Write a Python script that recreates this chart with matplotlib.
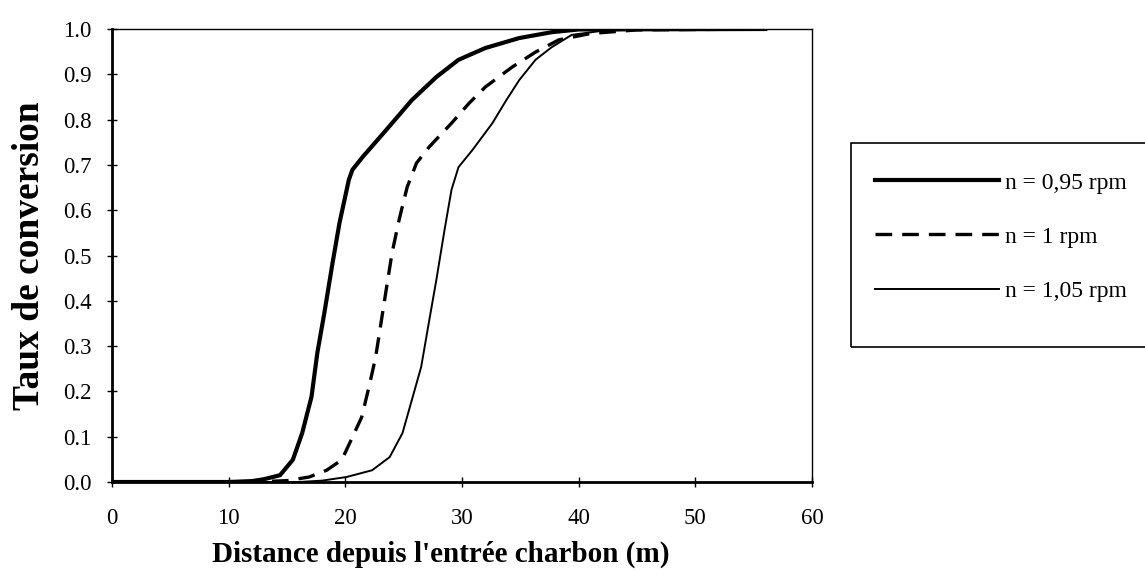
import matplotlib.pyplot as plt
from matplotlib.patches import Rectangle

# n = 0,95 rpm
x_095 = [0, 10, 12, 13, 14.4, 15.5, 16.3, 17.1, 17.6, 18.2, 18.9, 19.5, 20.3, 20.6,
         21.5, 23.5, 25.7, 27.8, 29.7, 32.0, 34.9, 37.7, 40, 56]
y_095 = [0, 0, 0.002, 0.006, 0.015, 0.049, 0.108, 0.188, 0.285, 0.373, 0.483, 0.572,
         0.667, 0.689, 0.718, 0.777, 0.843, 0.894, 0.932, 0.958, 0.98, 0.993, 0.999, 1.0]

# n = 1 rpm
x_100 = [0, 12, 15, 16.9, 18.4, 19.7, 20.5, 21.4, 22.1, 22.6, 23.1, 23.5, 24.0, 24.6,
         25.3, 26.1, 27.2, 29.1, 30.6, 32.0, 34.3, 36.3, 38.3, 41, 45, 56]
y_100 = [0, 0, 0.003, 0.011, 0.026, 0.049, 0.093, 0.143, 0.218, 0.276, 0.358, 0.424,
         0.505, 0.578, 0.651, 0.704, 0.74, 0.792, 0.836, 0.872, 0.916, 0.949, 0.976,
         0.99, 0.998, 1.0]

# n = 1,05 rpm
x_105 = [0, 16, 18, 20.1, 22.3, 23.8, 24.9, 25.7, 26.5, 27.2, 27.8, 28.5, 29.1, 29.7,
         30.9, 32.6, 33.8, 34.9, 36.3, 37.7, 39.4, 42, 46, 56]
y_105 = [0, 0, 0.003, 0.011, 0.026, 0.055, 0.108, 0.181, 0.254, 0.358, 0.446, 0.556,
         0.645, 0.695, 0.733, 0.792, 0.843, 0.887, 0.932, 0.96, 0.987, 0.996, 1.0, 1.0]

labels = ["n = 0,95 rpm", "n = 1 rpm", "n = 1,05 rpm"]
x_ticks = [0, 10, 20, 30, 40, 50, 60]
y_ticks = [0.0, 0.1, 0.2, 0.3, 0.4, 0.5, 0.6, 0.7, 0.8, 0.9, 1.0]

plt.rcParams['font.family'] = ['Liberation Serif', 'DejaVu Serif']

fig = plt.figure(figsize=(11.45, 5.77), dpi=100)
ax = fig.add_axes([112 / 1145, 1 - 482 / 577, 700 / 1145, 453 / 577])

l1, = ax.plot(x_095, y_095, color='black', lw=3.0, label=labels[0])
l2, = ax.plot(x_100, y_100, color='black', lw=2.4, linestyle=(0, (5, 3)), label=labels[1])
l3, = ax.plot(x_105, y_105, color='black', lw=1.4, label=labels[2])

ax.set_xlim(0, 60)
ax.set_ylim(0, 1.0)
ax.set_xticks(x_ticks)
ax.set_yticks(y_ticks)
ax.set_yticklabels(["%.1f" % v for v in y_ticks])
ax.tick_params(direction='inout', length=7, width=1, labelsize=16.5)
ax.tick_params(axis='x', pad=15)
ax.tick_params(axis='y', pad=11)

for side in ['top', 'right']:
    ax.spines[side].set_linewidth(1.0)
for side in ['left', 'bottom']:
    ax.spines[side].set_linewidth(2.0)

ax.set_xlabel("Distance depuis l'entrée charbon (m)", fontsize=21, fontweight='bold')
ax.xaxis.set_label_coords(0.47, -0.13)
ax.set_ylabel("Taux de conversion", fontsize=27, fontweight='bold', labelpad=12)

# legend box, runs off the right edge like the original
fig.patches.append(Rectangle((851 / 1145, 1 - 347 / 577), 320 / 1145, 204 / 577,
                             transform=fig.transFigure, fill=False, edgecolor='black', lw=1.2))
fig.legend(handles=[l1, l2, l3], loc='center left', bbox_to_anchor=(854 / 1145, 1 - 237 / 577),
           frameon=False, fontsize=17, handlelength=5.25, handletextpad=0.25, labelspacing=1.38)

fig.savefig("out.png", dpi=100)
